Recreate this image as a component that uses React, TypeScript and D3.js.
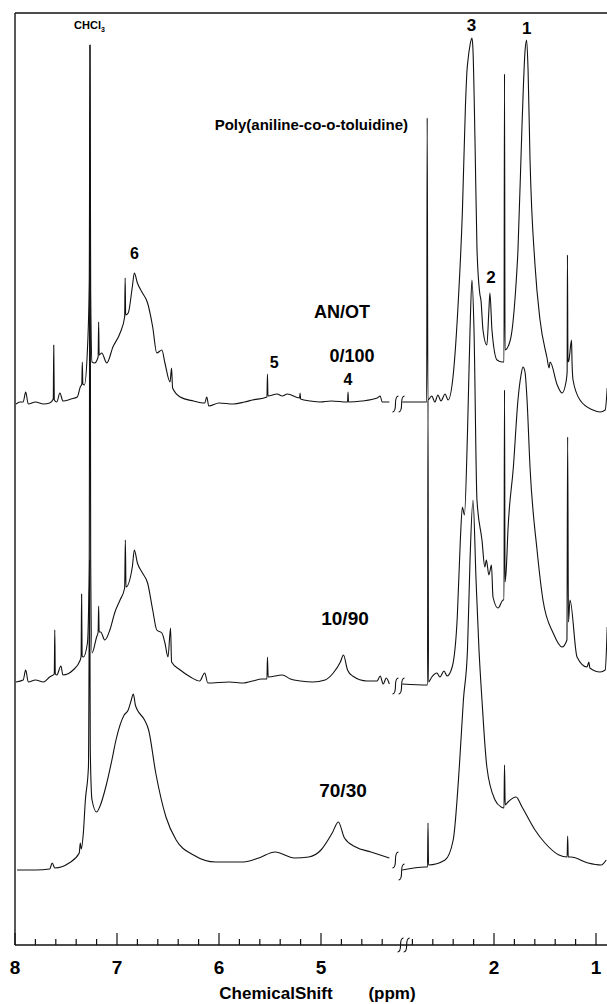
import React from "react";
import * as d3 from "d3";

// chemical shift (ppm), intensity above trace baseline (arb. units)
const aLeft: [number, number][] = [
  [7.99,-2],[7.95,0],[7.92,0],[7.895,10],[7.87,-2],[7.8,0],[7.72,-2],[7.66,-1],[7.625,3],[7.62,57],[7.615,2],[7.59,0],[7.56,9],[7.53,1],
  [7.45,3],[7.39,5],[7.36,15],[7.345,18],[7.34,40],[7.335,18],[7.32,17],[7.29,52],[7.272,120],[7.265,357],[7.258,110],
  [7.245,40],[7.22,39],[7.185,45],[7.18,80],[7.175,47],[7.15,49],[7.10,39],[7.04,55],[6.97,69],[6.925,85],
  [6.92,124],[6.915,87],[6.89,89],[6.85,115],[6.83,129],[6.80,119],[6.75,109],[6.70,99],[6.65,75],[6.61,49],
  [6.56,52],[6.53,39],[6.48,20],[6.465,34],[6.455,14],[6.38,5],[6.25,1],[6.14,-1],[6.12,5],[6.10,-4],[6.0,-1],[5.86,-2],
  [5.75,0],[5.67,2],[5.53,5],[5.525,28],[5.52,6],[5.43,8],[5.38,6],[5.33,8],[5.21,4],[5.205,9],[5.2,3],[5.1,1],[5.01,0],[4.9,1],[4.74,0],
  [4.735,10],[4.73,0],[4.6,1],[4.45,4],[4.42,6],[4.40,0],[4.33,0],
];
const aRight: [number, number][] = [
  [2.90,0],[2.66,0],[2.655,284],[2.648,2],[2.61,6],[2.58,0],[2.55,7],[2.52,1],[2.48,8],[2.45,2],[2.40,27],
  [2.35,101],[2.31,190],[2.28,296],[2.265,331],[2.255,342],[2.235,357],[2.216,364],[2.206,352],[2.186,260],
  [2.167,154],[2.14,109],[2.127,101],[2.108,72],[2.07,57],[2.05,92],[2.04,109],[2.02,72],[1.97,42],[1.92,40],
  [1.902,40],[1.897,328],[1.892,52],[1.84,62],[1.79,109],[1.765,152],[1.725,278],[1.695,352],[1.68,362],
  [1.666,332],[1.647,243],[1.598,137],[1.55,83],[1.48,44],[1.46,34],[1.45,40],[1.38,17],[1.333,9],[1.294,20],
  [1.283,30],[1.28,147],[1.275,40],[1.265,42],[1.24,62],[1.235,40],[1.225,22],[1.157,2],[1.03,-8],[0.96,-10],
  [0.91,-8],[0.89,14],
];
const bLeft: [number, number][] = [
  [7.99,0],[7.92,2],[7.895,12],[7.87,0],[7.8,2],[7.72,0],[7.66,5],[7.615,8],[7.61,52],[7.605,8],[7.59,7],[7.55,16],[7.53,7],
  [7.43,12],[7.36,22],[7.352,26],[7.347,88],[7.342,26],[7.33,25],[7.29,39],[7.272,120],[7.265,637],[7.258,120],
  [7.245,29],[7.20,45],[7.185,50],[7.18,76],[7.175,50],[7.16,50],[7.12,42],[7.07,52],[7.02,70],[6.97,82],
  [6.925,94],[6.918,142],[6.912,95],[6.85,115],[6.83,132],[6.80,119],[6.75,109],[6.70,99],[6.65,72],[6.61,52],
  [6.56,49],[6.53,39],[6.50,25],[6.475,54],[6.465,20],[6.38,12],[6.28,5],[6.19,1],[6.14,9],[6.11,-1],[5.9,0],[5.76,-1],
  [5.67,1],[5.58,3],[5.53,3],[5.525,25],[5.518,5],[5.38,7],[5.30,3],[5.2,1],[5.08,0],[4.96,2],[4.88,9],[4.81,20],
  [4.78,27],[4.74,12],[4.69,6],[4.55,1],[4.45,1],[4.42,6],[4.39,-2],[4.36,4],[4.33,-2],
];
const bRight: [number, number][] = [
  [2.90,-2],[2.652,-3],[2.647,282],[2.642,0],[2.61,5],[2.56,9],[2.53,5],[2.49,11],[2.46,6],[2.41,15],[2.36,65],
  [2.33,142],[2.31,175],[2.29,167],[2.26,249],[2.235,352],[2.216,402],[2.196,352],[2.167,182],[2.118,142],
  [2.09,115],[2.075,122],[2.05,107],[2.025,117],[2.01,85],[1.96,74],[1.91,82],[1.902,82],[1.897,292],[1.892,100],
  [1.88,112],[1.863,152],[1.81,215],[1.765,282],[1.735,307],[1.716,315],[1.696,310],[1.676,282],[1.647,215],
  [1.578,132],[1.52,82],[1.42,49],[1.333,35],[1.285,42],[1.278,245],[1.27,60],[1.255,82],[1.186,25],[1.088,15],
  [1.07,20],[1.06,14],[0.96,10],[0.91,12],[0.89,55],
];
const cLeft: [number, number][] = [
  [7.98,0],[7.8,0],[7.66,1],[7.635,7],[7.61,2],[7.47,7],[7.37,17],[7.36,27],[7.35,21],[7.33,37],[7.31,70],[7.28,103],
  [7.268,310],[7.262,120],[7.245,70],[7.20,58],[7.17,63],[7.11,83],[7.05,110],[7.01,130],[6.93,155],[6.89,160],
  [6.86,170],[6.84,176],[6.82,165],[6.80,160],[6.73,150],[6.69,140],[6.62,97],[6.52,53],[6.42,30],[6.25,15],
  [6.03,8],[5.76,8],[5.61,12],[5.45,18],[5.26,12],[5.12,13],[5.00,20],[4.89,37],[4.83,48],[4.77,32],[4.66,23],
  [4.51,18],[4.33,12],
];
const cRight: [number, number][] = [
  [2.90,0],[2.676,3],[2.652,3],[2.647,47],[2.642,5],[2.48,10],[2.40,30],[2.34,103],[2.30,170],[2.26,220],
  [2.235,310],[2.206,370],[2.176,290],[2.147,220],[2.118,170],[2.07,103],[1.99,70],[1.93,63],[1.902,62],
  [1.897,105],[1.89,65],[1.863,68],[1.784,73],[1.725,63],[1.598,40],[1.50,27],[1.363,15],[1.283,13],[1.278,34],
  [1.272,13],[1.245,13],[1.078,7],[0.95,5],[0.90,10],
];

const traceOffsets = [543, 263, 75];
const traceNames = ["0/100", "10/90", "70/30"];
const leftTicks = d3.range(8, 4.3, -0.2);
const rightTicks = d3.range(2.8, 0.95, -0.2);
const tickLabelsLeft = [8, 7, 6, 5];
const tickLabelsRight = [2, 1];

const W = 607;
const H = 1004;
const font = "'Liberation Sans', Arial, sans-serif";

export default function App() {
  const xLeft = d3.scaleLinear().domain([8, 4]).range([15, 423]);
  const xRight = d3.scaleLinear().domain([3, 1]).range([392, 596]);
  const y = d3.scaleLinear().domain([0, 932]).range([945, 13]);
  const axisY = y(0);

  const mk = (xs: d3.ScaleLinear<number, number>, off: number) =>
    d3.line<[number, number]>().x(d => xs(d[0])).y(d => y(d[1] + off)).curve(d3.curveMonotoneX);

  const traces = [
    [aLeft, aRight],
    [bLeft, bRight],
    [cLeft, cRight],
  ];

  // little "ʃ" break mark
  const squiggle = (x: number, yc: number, h = 8) => {
    const p = d3.path();
    p.moveTo(x + 3, yc - h);
    p.quadraticCurveTo(x, yc - h, x, yc);
    p.quadraticCurveTo(x, yc + h, x - 3, yc + h);
    return p.toString();
  };

  return (
    <svg width={W} height={H} style={{ position: "absolute", left: 0, top: 0, background: "#fff" }}
      fontFamily={font} fontWeight="bold">
      <rect x={0} y={0} width={W} height={H} fill="#fff" />
      {/* frame */}
      <line x1={15} x2={W} y1={13} y2={13} stroke="#111" strokeWidth={1.6} />
      <line x1={15} x2={15} y1={13} y2={axisY} stroke="#111" strokeWidth={1.4} />
      <line x1={15} x2={W} y1={axisY} y2={axisY} stroke="#111" strokeWidth={1.6} />

      {/* ticks */}
      {leftTicks.map(t => {
        const major = Math.abs(t - Math.round(t)) < 0.01;
        return <line key={"l" + t} x1={xLeft(t)} x2={xLeft(t)} y1={axisY} y2={axisY - (major ? 12 : 6)} stroke="#111" strokeWidth={1.2} />;
      })}
      {rightTicks.map(t => {
        const major = Math.abs(t - Math.round(t)) < 0.01;
        return <line key={"r" + t} x1={xRight(t)} x2={xRight(t)} y1={axisY} y2={axisY - (major ? 12 : 6)} stroke="#111" strokeWidth={1.2} />;
      })}
      <path d={squiggle(xLeft(4.22), axisY, 7)} fill="none" stroke="#111" strokeWidth={1.1} />
      <path d={squiggle(xLeft(4.16), axisY, 7)} fill="none" stroke="#111" strokeWidth={1.1} />

      {tickLabelsLeft.map(t => (
        <text key={"tl" + t} x={xLeft(t)} y={974} fontSize={19} textAnchor="middle">{t}</text>
      ))}
      {tickLabelsRight.map(t => (
        <text key={"tr" + t} x={xRight(t)} y={974} fontSize={19} textAnchor="middle">{t}</text>
      ))}
      <text x={276} y={999} fontSize={17} textAnchor="middle">ChemicalShift</text>
      <text x={392} y={999} fontSize={17} textAnchor="middle">(ppm)</text>

      {/* spectra */}
      {traces.map(([l, r], i) => {
        const off = traceOffsets[i];
        const lEnd = l[l.length - 1];
        const rStart = r[0];
        return (
          <g key={traceNames[i]} fill="none" stroke="#111" strokeWidth={1.1} strokeLinejoin="round">
            <path d={mk(xLeft, off)(l) || ""} />
            <path d={mk(xRight, off)(r) || ""} />
            <path d={squiggle(xLeft(4.27), y(lEnd[1] + off) + 2)} />
            <path d={squiggle(xLeft(4.21), y(rStart[1] + off) + 2)} />
          </g>
        );
      })}

      {/* annotations */}
      <text x={xLeft(7.27)} y={29} fontSize={11} textAnchor="middle">CHCl<tspan fontSize={7} dy={3}>3</tspan></text>
      <text x={xRight(2.22)} y={31} fontSize={17} textAnchor="middle">3</text>
      <text x={xRight(1.68)} y={34} fontSize={17} textAnchor="middle">1</text>
      <text x={408} y={130} fontSize={15} textAnchor="end">Poly(aniline-co-o-toluidine)</text>
      <text x={xLeft(6.83)} y={259} fontSize={16} textAnchor="middle">6</text>
      <text x={xRight(2.03)} y={283} fontSize={17} textAnchor="middle">2</text>
      <text x={342} y={318} fontSize={18} textAnchor="middle">AN/OT</text>
      <text x={xLeft(5.46)} y={368} fontSize={16} textAnchor="middle">5</text>
      <text x={352} y={362} fontSize={18} textAnchor="middle">{traceNames[0]}</text>
      <text x={xLeft(4.735)} y={385} fontSize={16} textAnchor="middle">4</text>
      <text x={345} y={625} fontSize={19} textAnchor="middle">{traceNames[1]}</text>
      <text x={343} y={797} fontSize={19} textAnchor="middle">{traceNames[2]}</text>
    </svg>
  );
}
